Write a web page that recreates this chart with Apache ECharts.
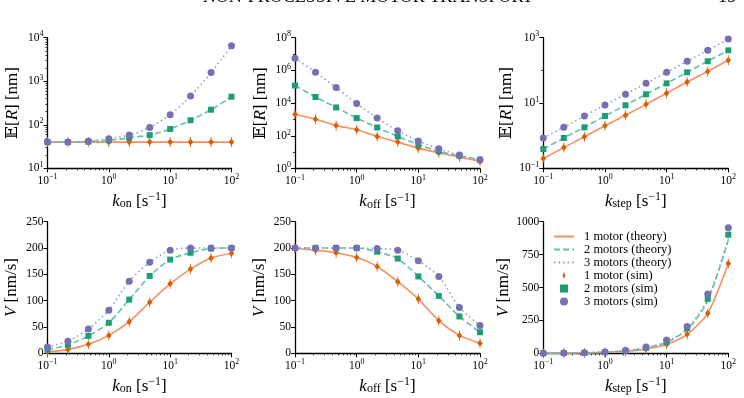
<!DOCTYPE html>
<html><head><meta charset="utf-8">
<script src="https://cdn.jsdelivr.net/npm/echarts@6/dist/echarts.min.js"></script>
<style>html,body{margin:0;padding:0;background:#fff}#c{width:744px;height:398px}</style>
</head><body><div id="c"></div>
<script>
// ---- data ----
const kVals = [0.1, 0.215, 0.464, 1, 2.15, 4.64, 10, 21.5, 46.4, 100];
// E[R] vs k_on
const onER1 = [40, 40, 40, 40, 40, 40, 40, 40, 40, 40];
const onER2 = [40, 40, 41, 44, 50, 58, 80, 127, 222, 441];
const onER3 = [40, 40, 42, 48, 58, 87, 170, 456, 1580, 6550];
// E[R] vs k_off
const offER1 = [2140, 1060, 440, 240, 93, 42, 18, 9.4, 5.1, 2.8];
const offER2 = [120000, 24000, 5500, 1230, 330, 93, 30, 11.4, 6.2, 3.5];
const offER3 = [5500000, 780000, 90000, 9500, 1230, 206, 49, 16.5, 6.8, 3.5];
// E[R] vs k_step
const stER1 = [0.2, 0.43, 0.93, 2.0, 4.2, 9.1, 20, 44, 93, 204];
const stER2 = [0.39, 0.85, 1.8, 4.0, 8.5, 18.5, 40, 87, 190, 410];
const stER3 = [0.85, 1.8, 4.0, 8.7, 18.5, 40, 87, 190, 410, 910];
// V vs k_on
const onV1 = [3, 7, 17, 34, 60, 97, 132, 160, 181, 190];
const onV2 = [7, 16, 33, 58, 102, 147, 178, 191, 199, 200];
const onV3 = [12, 23, 46, 82, 137, 173, 196, 200, 200, 200];
// V vs k_off
const offV1 = [199, 196, 191, 182, 165, 136, 103, 62, 34, 19];
const offV2 = [200, 200, 200, 200, 193, 180, 146, 109, 70, 40];
const offV3 = [200, 200, 200, 200, 199, 196, 176, 146, 87, 53];
// V vs k_step
const stV1 = [0.7, 1.5, 3, 7, 15, 32, 68, 144, 304, 683];
const stV2 = [0.9, 2, 4, 9, 19, 41, 84, 190, 413, 901];
const stV3 = [1, 2.2, 4.7, 10, 22, 47, 101, 203, 450, 954];
const stVth2 = [0.9, 2, 4, 9, 19, 40, 84, 180, 400, 860];
const stVth3 = [1, 2.1, 4.5, 9.5, 20, 42, 88, 185, 410, 870];

const seriesNames = ['1 motor (theory)', '2 motors (theory)', '3 motors (theory)', '1 motor (sim)', '2 motors (sim)', '3 motors (sim)'];
const xNames = ['on', 'off', 'step'];

// ---- style ----
const FONT = "'Liberation Serif', 'DejaVu Serif', serif";
const lineCols = ['#fc8d62', '#66c2a5', '#8da0cb'];
const markCols = ['#d95f02', '#1b9e77', '#7570b3'];
const lineTypes = ['solid', [6, 3], [1.5, 3]];
const diamond = 'path://M1.7,0H2.3V2L4,5L2.3,8V10H1.7V8L0,5L1.7,2Z';
const square = 'path://M0,0H1V1H0Z';
const symbols = [diamond, 'rect', 'circle'];
const legendIcons = [diamond, square, 'circle'];
const symSizes = [[5.5, 10], 6, 7];

const grids = [
  {left: 47.5, top: 37.7, width: 184, height: 130.6},
  {left: 295, top: 37.7, width: 185, height: 131},
  {left: 543.3, top: 37.7, width: 185, height: 130.6},
  {left: 47.5, top: 221.7, width: 184, height: 131.6},
  {left: 295, top: 221.7, width: 185, height: 131.6},
  {left: 543.3, top: 221.7, width: 185, height: 131.6}
];

const panels = [
  {sim: [onER1, onER2, onER3], th: [onER1, onER2, onER3], y: {type: 'log', min: 10, max: 1e4}},
  {sim: [offER1, offER2, offER3], th: [offER1, offER2, offER3], y: {type: 'log', min: 1, max: 1e8, labels: [1, 1e2, 1e4, 1e6, 1e8]}},
  {sim: [stER1, stER2, stER3], th: [stER1, stER2, stER3], y: {type: 'log', min: 0.1, max: 1e3, labels: [0.1, 10, 1e3]}},
  {sim: [onV1, onV2, onV3], th: [onV1, onV2, onV3], y: {type: 'value', min: 0, max: 250, interval: 50}},
  {sim: [offV1, offV2, offV3], th: [offV1, offV2, offV3], y: {type: 'value', min: 0, max: 250, interval: 50}},
  {sim: [stV1, stV2, stV3], th: [stV1, stVth2, stVth3], y: {type: 'value', min: 0, max: 1000, interval: 250}}
];

function powLabel(v) {
  const e = Math.round(Math.log10(v));
  return '{b|10}{s|' + (e < 0 ? '\u2212' + (-e) : e) + '}';
}
const richPow = {
  b: {fontFamily: FONT, fontSize: 11.5, color: '#000'},
  s: {fontFamily: FONT, fontSize: 8, color: '#000', padding: [0, 0, 7, 0]}
};
function minorLog(lo, hi) {
  const out = [];
  for (let d = Math.round(Math.log10(lo)); d < Math.round(Math.log10(hi)); d++) {
    for (let m = 2; m <= 9; m++) out.push(m * Math.pow(10, d));
  }
  return out;
}
function decades(lo, hi) {
  const out = [];
  for (let d = Math.round(Math.log10(lo)); d <= Math.round(Math.log10(hi)); d++) out.push(Math.pow(10, d));
  return out;
}

const axLine = {show: true, onZero: false, lineStyle: {color: '#000', width: 1.3}};
const xAxes = [], yAxes = [], series = [];
const nameRich = {
  k: {fontFamily: FONT, fontSize: 17, fontStyle: 'italic', color: '#000'},
  sub: {fontFamily: FONT, fontSize: 12, color: '#000', padding: [6, 0, 0, 0]},
  t: {fontFamily: FONT, fontSize: 17, color: '#000'},
  sup: {fontFamily: FONT, fontSize: 12, color: '#000', padding: [0, 0, 8, 0]}
};

panels.forEach((p, i) => {
  const xn = xNames[i % 3];
  xAxes.push({
    gridIndex: i, type: 'log', logBase: 10, min: 0.1, max: 100,
    axisLine: axLine, splitLine: {show: false},
    axisTick: {length: 4, lineStyle: {color: '#000', width: 1}},
    axisLabel: {formatter: powLabel, rich: richPow, margin: 5},
    name: '{k|k}{sub|' + xn + '}{t| [s}{sup|\u22121}{t|]}',
    nameLocation: 'middle', nameGap: 23,
    nameTextStyle: {rich: nameRich}
  });
  xAxes.push({
    gridIndex: i, type: 'log', logBase: 10, min: 0.1, max: 100, position: 'bottom',
    axisLine: {show: false}, splitLine: {show: false}, axisLabel: {show: false},
    axisTick: {show: true, length: 2, customValues: minorLog(0.1, 100), lineStyle: {color: '#000', width: 0.8}}
  });
  const yc = p.y;
  const yName = i < 3 ? '{t|\uD835\uDD3C[}{k|R}{t|] [nm]}' : '{k|V}{t| [nm/s]}';
  const yMain = {
    gridIndex: i, type: yc.type, min: yc.min, max: yc.max, position: 'left',
    axisLine: axLine, splitLine: {show: false},
    axisTick: {length: 4, lineStyle: {color: '#000', width: 1}},
    axisLabel: {margin: 4, fontFamily: FONT, fontSize: 11.5, color: '#000', formatter: v => String(v)},
    name: yName, nameLocation: 'middle', nameGap: i < 3 ? 26 : 27, nameRotate: 90,
    nameTextStyle: {rich: nameRich}
  };
  if (yc.type === 'log') {
    yMain.logBase = 10;
    yMain.axisLabel.formatter = powLabel;
    yMain.axisLabel.rich = richPow;
    if (yc.labels) {
      yMain.axisLabel.customValues = yc.labels;
      yMain.axisTick.customValues = yc.labels;
    }
  } else {
    yMain.interval = yc.interval;
  }
  yAxes.push(yMain);
  if (yc.type === 'log') {
    const ticks = yc.labels ? decades(yc.min, yc.max).filter(v => yc.labels.indexOf(v) < 0) : minorLog(yc.min, yc.max);
    yAxes.push({
      gridIndex: i, type: 'log', logBase: 10, min: yc.min, max: yc.max, position: 'left',
      axisLine: {show: false}, splitLine: {show: false}, axisLabel: {show: false},
      axisTick: {show: true, length: 2, customValues: ticks, lineStyle: {color: '#000', width: 0.8}}
    });
  }
});

let yIdx = 0;
const yIndexOf = [];
panels.forEach((p) => { yIndexOf.push(yIdx); yIdx += (p.y.type === 'log') ? 2 : 1; });

panels.forEach((p, i) => {
  for (let m = 0; m < 3; m++) {
    series.push({
      type: 'line', name: seriesNames[m], xAxisIndex: 2 * i, yAxisIndex: yIndexOf[i],
      data: kVals.map((k, j) => [k, p.th[m][j]]),
      symbol: 'none', showSymbol: false,
      smooth: 0.25,
      lineStyle: {color: lineCols[m], width: 1.6, type: lineTypes[m]},
      itemStyle: {color: lineCols[m]}, z: 2, silent: true, animation: false
    });
  }
  for (let m = 0; m < 3; m++) {
    series.push({
      type: 'scatter', name: seriesNames[3 + m], xAxisIndex: 2 * i, yAxisIndex: yIndexOf[i],
      data: kVals.map((k, j) => [k, p.sim[m][j]]),
      symbol: symbols[m], symbolSize: symSizes[m],
      itemStyle: {color: markCols[m], opacity: 1}, z: 3 + m, silent: true, animation: false
    });
  }
});

const legendData = seriesNames.map((n, m) => m < 3
  ? {name: n, itemStyle: {opacity: 0}, lineStyle: {width: 2, type: lineTypes[m], color: lineCols[m], opacity: 1}}
  : {name: n, icon: legendIcons[m - 3]});

const chart = echarts.init(document.getElementById('c'), null, {renderer: 'canvas'});
chart.setOption({
  backgroundColor: '#fff',
  animation: false,
  grid: grids,
  xAxis: xAxes,
  yAxis: yAxes,
  series: series,
  legend: {
    show: true, orient: 'vertical', left: 553, top: 230, padding: 0,
    itemWidth: 20, itemHeight: 8, itemGap: 0, selectedMode: false, symbolKeepAspect: true,
    data: legendData,
    textStyle: {fontFamily: FONT, fontSize: 12.5, color: '#000', lineHeight: 11.5, padding: [0, 0, 0, 5]}
  },
  graphic: [
    {type: 'text', style: {text: 'NON-PROCESSIVE MOTOR TRANSPORT', x: 368, y: 6.5, fontFamily: FONT, fontSize: 18, fill: '#000', textAlign: 'center', textVerticalAlign: 'bottom'}},
    {type: 'text', style: {text: '15', x: 736, y: 6.5, fontFamily: FONT, fontSize: 18, fill: '#000', textAlign: 'right', textVerticalAlign: 'bottom'}}
  ]
});
</script></body></html>
